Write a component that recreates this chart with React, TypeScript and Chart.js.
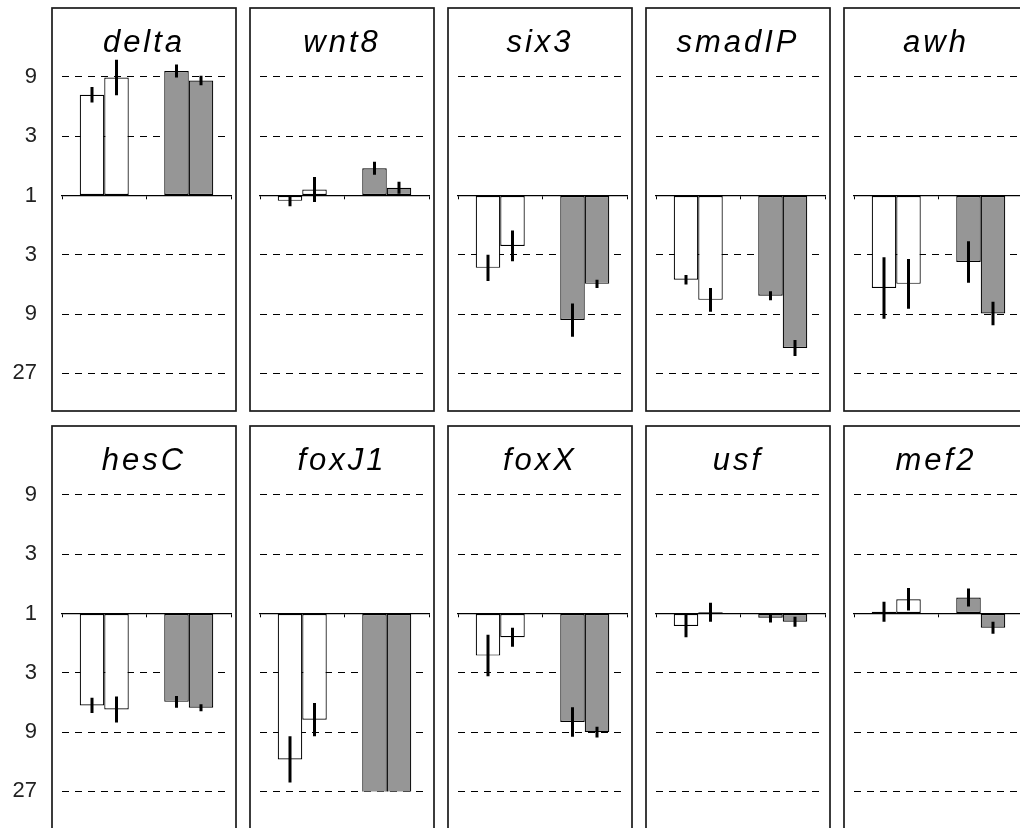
import React, { useEffect, useRef } from "react";
import { Chart, registerables } from "chart.js";

Chart.register(...registerables);

// Genes, one panel each (two rows of five)
const genes = ["delta", "wnt8", "six3", "smadIP", "awh", "hesC", "foxJ1", "foxX", "usf", "mef2"];

// Expression change in log3 units: +1 = 3-fold up, -1 = 3-fold down
const openA = [1.7, -0.09, -1.22, -1.42, -1.56, -1.55, -2.46, -0.71, -0.21, 0.03];
const openB = [1.99, 0.1, -0.85, -1.76, -1.49, -1.62, -1.79, -0.4, 0.02, 0.24];
const greyA = [2.1, 0.46, -2.1, -1.69, -1.12, -1.49, -3.2, -1.83, -0.07, 0.27];
const greyB = [1.94, 0.13, -1.49, -2.57, -1.99, -1.59, -3.2, -2.0, -0.14, -0.24];

// Error half-lengths, same units
const openAErr = [0.13, 0.09, 0.22, 0.08, 0.52, 0.13, 0.39, 0.35, 0.19, 0.17];
const openBErr = [0.3, 0.21, 0.26, 0.2, 0.42, 0.22, 0.28, 0.16, 0.16, 0.19];
const greyAErr = [0.11, 0.11, 0.28, 0.075, 0.35, 0.1, 0.15, 0.25, 0.08, 0.15];
const greyBErr = [0.08, 0.1, 0.07, 0.135, 0.2, 0.06, 0.15, 0.09, 0.085, 0.1];

const groups = ["open", "grey"];
const yTicks = [-3, -2, -1, 0, 1, 2];

const OPEN = "#ffffff";
const GREY = "#969696";
const FONT = '"Liberation Sans", Arial, sans-serif';

// geometry
const BOX_W = 184;
const BOX_H = 403;
const COL_PITCH = 198;
const ROW_PITCH = 418;
const FIRST_BOX_X = 52;
const FIRST_BOX_Y = 8;
const UNIT = 59.3; // px per log3 unit
const ZERO_FROM_BOX_TOP = 187.5;

const foldLabel = (v: number) => (v === 0 ? "1" : String(Math.round(Math.pow(3, Math.abs(v)))));

const errorBars = {
  id: "errorBars",
  afterDatasetsDraw(chart: any) {
    const { ctx, chartArea, scales } = chart;
    const y = scales.y;
    ctx.save();
    ctx.beginPath();
    ctx.rect(chartArea.left, chartArea.top, chartArea.right - chartArea.left, chartArea.bottom - chartArea.top);
    ctx.clip();
    ctx.strokeStyle = "#000";
    ctx.lineWidth = 3;
    chart.data.datasets.forEach((ds: any, di: number) => {
      const meta = chart.getDatasetMeta(di);
      meta.data.forEach((bar: any, j: number) => {
        const v = ds.data[j];
        const e = ds.errors[j];
        ctx.beginPath();
        ctx.moveTo(bar.x, y.getPixelForValue(v + e));
        ctx.lineTo(bar.x, y.getPixelForValue(v - e));
        ctx.stroke();
      });
    });
    ctx.restore();
  },
};

const panelFrame = {
  id: "panelFrame",
  afterDraw(chart: any, _args: any, opts: any) {
    const { ctx } = chart;
    ctx.save();
    ctx.strokeStyle = "#1a1a1a";
    ctx.lineWidth = 1.7;
    ctx.strokeRect(opts.x, opts.y, BOX_W, BOX_H);
    ctx.font = `italic 31px ${FONT}`;
    (ctx as any).letterSpacing = "3px";
    ctx.textAlign = "center";
    ctx.textBaseline = "alphabetic";
    ctx.fillStyle = "#000";
    ctx.fillText(opts.title, opts.x + BOX_W / 2, opts.y + 44);
    ctx.restore();
  },
};

function Panel({ index }: { index: number }) {
  const ref = useRef<HTMLCanvasElement | null>(null);
  const col = index % 5;
  const row = Math.floor(index / 5);
  const boxX = FIRST_BOX_X + COL_PITCH * col;
  const boxY = FIRST_BOX_Y + ROW_PITCH * row;
  const left = col === 0 ? 0 : boxX - 2;
  const top = boxY - 2;
  const width = col === 0 ? boxX + BOX_W + 4 : BOX_W + 4;
  const height = BOX_H + 5;
  const ox = boxX - left;
  const oy = boxY - top;
  const zero = oy + ZERO_FROM_BOX_TOP;
  const yMax = 3;
  const yMin = -3;
  const padTop = zero - yMax * UNIT;
  const padBottom = height - (zero - yMin * UNIT);
  const axisW = ox + 10;
  const padRight = width - (ox + 179);

  useEffect(() => {
    if (!ref.current) return;
    const chart = new Chart(ref.current, {
      type: "bar",
      data: {
        labels: groups,
        datasets: [
          {
            data: [openA[index], greyA[index]],
            errors: [openAErr[index], greyAErr[index]],
            backgroundColor: [OPEN, GREY],
            borderColor: "#000",
            borderWidth: 1.2,
            borderSkipped: false,
          } as any,
          {
            data: [openB[index], greyB[index]],
            errors: [openBErr[index], greyBErr[index]],
            backgroundColor: [OPEN, GREY],
            borderColor: "#000",
            borderWidth: 1.2,
            borderSkipped: false,
          } as any,
        ],
      },
      options: {
        responsive: false,
        animation: false,
        events: [],
        layout: { padding: { left: 0, right: padRight, top: padTop, bottom: padBottom } },
        datasets: { bar: { categoryPercentage: 0.58, barPercentage: 1 } },
        scales: {
          x: {
            position: { y: 0 } as any,
            grid: { drawOnChartArea: false, tickLength: 3, color: "#000", lineWidth: 1 },
            border: { display: true, color: "#000", width: 1.3 },
            ticks: { display: false },
            afterFit: (s: any) => {
              s.height = 0;
              s.paddingLeft = 0;
              s.paddingRight = 0;
            },
          },
          y: {
            min: yMin,
            max: yMax,
            afterBuildTicks: (s: any) => {
              s.ticks = yTicks.map((v) => ({ value: v }));
            },
            afterFit: (s: any) => {
              s.width = axisW;
              s.paddingTop = 0;
              s.paddingBottom = 0;
            },
            grid: {
              drawTicks: false,
              lineWidth: 1,
              color: (c: any) => (c.tick && c.tick.value === 0 ? "rgba(0,0,0,0)" : "#000"),
            },
            border: { display: false, dash: [7, 6] },
            ticks: {
              display: col === 0,
              padding: 25,
              color: "#222",
              font: { family: FONT, size: 22 },
              callback: (v: any) => foldLabel(Number(v)),
            },
          },
        },
        plugins: {
          legend: { display: false },
          tooltip: { enabled: false },
          title: { display: false },
          panelFrame: { x: ox, y: oy, title: genes[index] },
        } as any,
      },
      plugins: [errorBars, panelFrame],
    });
    return () => chart.destroy();
  }, [index]);

  return (
    <canvas
      ref={ref}
      width={width}
      height={height}
      style={{ position: "absolute", left, top, width, height }}
    />
  );
}

export default function App() {
  return (
    <div
      style={{
        position: "absolute",
        left: 0,
        top: 0,
        width: 1020,
        height: 828,
        overflow: "hidden",
        background: "#fff",
      }}
    >
      {genes.map((g, i) => (
        <Panel key={g} index={i} />
      ))}
    </div>
  );
}
